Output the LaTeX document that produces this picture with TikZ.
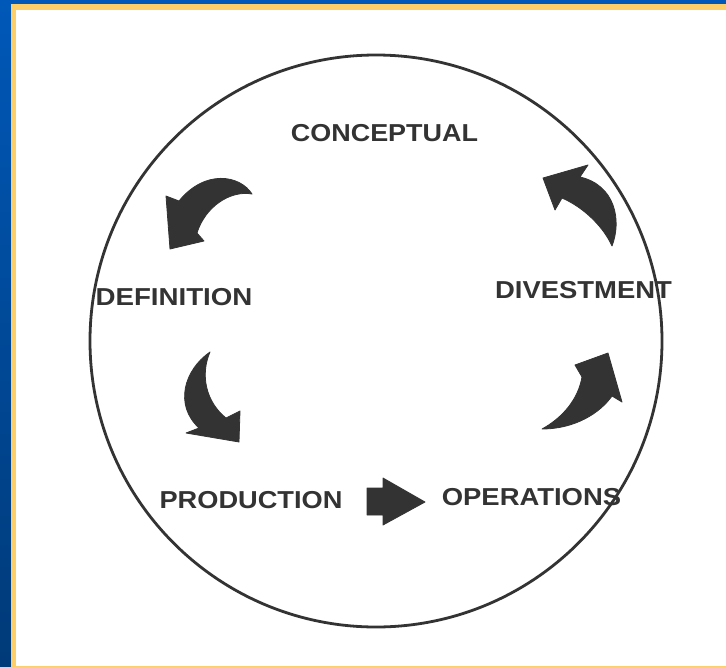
\documentclass[tikz,border=0pt]{standalone}
\usepackage{fontspec}
\setmainfont{Liberation Sans}
\begin{document}
\begin{tikzpicture}[x=1pt,y=-1pt,
  lbl/.style={font=\fontsize{24.5}{24.5}\selectfont\bfseries, text=ink, inner sep=0pt, anchor=center},
  blk/.style={fill=ink, draw=ink, line width=0.8pt, line join=round}]
\definecolor{ink}{HTML}{333333}
\definecolor{bluetop}{HTML}{0058B8}
\definecolor{bluebot}{HTML}{003A78}
\definecolor{gold}{HTML}{FDCF6A}
\useasboundingbox (0,0) rectangle (726,667);
% background
\shade[top color=bluetop, bottom color=bluebot] (0,0) rectangle (726,667);
\fill[gold] (11,4) rectangle (726,667);
\fill[white] (16,10) rectangle (726,666);
% circle
\node[circle, draw=ink, line width=2.8pt, minimum size=572pt, inner sep=0pt] (ring) at (376,341) {};
% labels
\node[lbl] (conc) at (384.5,133) {\scalebox{1.10}[1]{CONCEPTUAL}};
\node[lbl] (defn) at (174,297.5) {\scalebox{1.13}[1]{DEFINITION}};
\node[lbl] (dive) at (583.5,290) {\scalebox{1.12}[1]{DIVESTMENT}};
\node[lbl] (prod) at (251,500) {\scalebox{1.11}[1]{PRODUCTION}};
\node[lbl] (oper) at (531.5,497) {\scalebox{1.12}[1]{OPERATIONS}};
% arrow 1: conceptual -> definition
\filldraw[blk] (252,194) .. controls (240,175) and (205,169) .. (179,201)
  -- (166,196) -- (170,249) -- (204,241) -- (197,233)
  .. controls (205,207) and (230,190) .. cycle;
% arrow 2: divestment -> conceptual
\filldraw[blk] (612,246) .. controls (622,220) and (615,185) .. (580,177)
  -- (588,165) -- (543,178) -- (555,210) -- (562,198)
  .. controls (585,208) and (604,228) .. cycle;
% arrow 3: definition -> production
\filldraw[blk] (210,352) .. controls (184,370) and (174,405) .. (199,428)
  -- (186,433) -- (239,442) -- (240,411) -- (226,418)
  .. controls (206,402) and (200,375) .. cycle;
% arrow 4: operations -> divestment
\filldraw[blk] (542,429) .. controls (575,429) and (600,413) .. (612,396)
  -- (622,402) -- (608,353) -- (575,365) -- (582,377)
  .. controls (578,400) and (562,418) .. cycle;
% arrow 5: production -> operations
\filldraw[blk] (367,488) -- (383,488) -- (383,478) -- (425,502)
  -- (383,525) -- (383,515) -- (367,515) -- cycle;
\end{tikzpicture}
\end{document}
